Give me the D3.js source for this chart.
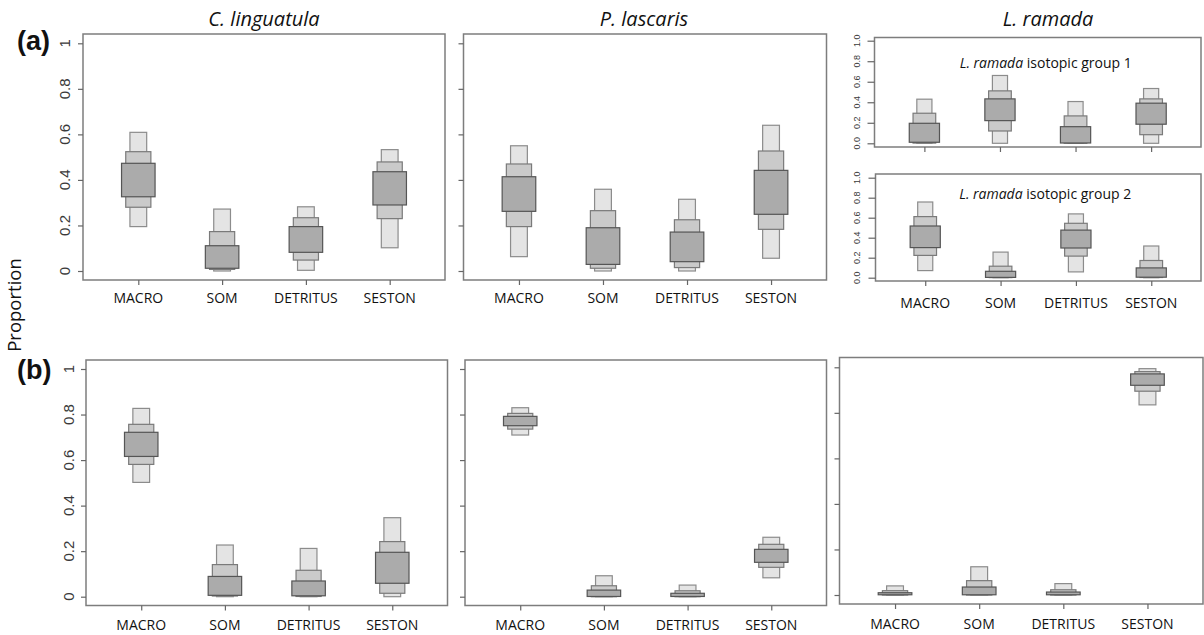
<!DOCTYPE html>
<html>
<head>
<meta charset="utf-8">
<script src="https://cdn.jsdelivr.net/npm/d3@7"></script>
<style>
  html, body { margin: 0; padding: 0; background: #fff; }
  svg { display: block; }
</style>
</head>
<body>
<svg id="chart" width="1204" height="635"></svg>
<script>
// Diet source categories
const categories = ["MACRO", "SOM", "DETRITUS", "SESTON"];

// Credible intervals per source: [lo95, hi95, lo75, hi75, lo50, hi50]
const clinguatulaA = [
  [0.195, 0.609, 0.280, 0.524, 0.326, 0.473],
  [0.000, 0.272, 0.007, 0.173, 0.012, 0.111],
  [0.003, 0.282, 0.048, 0.234, 0.082, 0.195],
  [0.102, 0.533, 0.230, 0.479, 0.290, 0.436]
];
const plascarisA = [
  [0.063, 0.550, 0.195, 0.470, 0.262, 0.414],
  [0.000, 0.359, 0.012, 0.265, 0.029, 0.190],
  [0.000, 0.315, 0.015, 0.225, 0.041, 0.171],
  [0.056, 0.640, 0.183, 0.527, 0.249, 0.442]
];
const lramadaGroup1 = [
  [0.000, 0.430, 0.002, 0.293, 0.010, 0.195],
  [0.000, 0.661, 0.120, 0.511, 0.221, 0.433],
  [0.000, 0.407, 0.001, 0.267, 0.003, 0.162],
  [0.000, 0.534, 0.084, 0.433, 0.186, 0.391]
];
const lramadaGroup2 = [
  [0.071, 0.757, 0.223, 0.611, 0.301, 0.517],
  [0.000, 0.256, 0.001, 0.115, 0.003, 0.064],
  [0.058, 0.638, 0.216, 0.544, 0.297, 0.476],
  [0.000, 0.317, 0.002, 0.172, 0.005, 0.098]
];
const clinguatulaB = [
  [0.502, 0.827, 0.581, 0.757, 0.616, 0.722],
  [0.000, 0.227, 0.003, 0.141, 0.006, 0.089],
  [0.000, 0.212, 0.001, 0.116, 0.004, 0.069],
  [0.000, 0.347, 0.015, 0.242, 0.059, 0.195]
];
const plascarisB = [
  [0.710, 0.830, 0.736, 0.805, 0.751, 0.792],
  [0.000, 0.092, 0.000, 0.048, 0.001, 0.029],
  [0.000, 0.051, 0.000, 0.026, 0.001, 0.015],
  [0.083, 0.261, 0.129, 0.230, 0.151, 0.208]
];
const lramadaB = [
  [0.000, 0.040, 0.000, 0.019, 0.001, 0.010],
  [0.000, 0.124, 0.000, 0.063, 0.001, 0.035],
  [0.000, 0.050, 0.000, 0.023, 0.001, 0.013],
  [0.835, 0.994, 0.895, 0.981, 0.921, 0.971]
];

// Tick labels
const bigTicks = [0, 0.2, 0.4, 0.6, 0.8, 1];
const bigTickLabels = ["0", "0.2", "0.4", "0.6", "0.8", "1"];
const smallTicks = [0, 0.2, 0.4, 0.6, 0.8, 1];
const smallTickLabels = ["0.0", "0.2", "0.4", "0.6", "0.8", "1.0"];

const speciesTitles = ["C. linguatula", "P. lascaris", "L. ramada"];

const svg = d3.select("#chart");

// Interval levels: 95% (light, narrow), 75%, 50% (dark, wide)
const levels = [
  { lo: 0, hi: 1, w: 0.2, fill: "#e4e4e4", stroke: "#8c8c8c" },
  { lo: 2, hi: 3, w: 0.3, fill: "#cacaca", stroke: "#7a7a7a" },
  { lo: 4, hi: 5, w: 0.4, fill: "#ababab", stroke: "#555555" }
];

function panel(opts) {
  const { frame, y0, y1, data, tickLabels, ticks, tickFont, tickLabelX, showXLabels, xLabelY, label } = opts;
  const g = svg.append("g");
  const x = d3.scaleLinear().domain([0.34, 4.66]).range([frame.x0, frame.x1]);
  const y = d3.scaleLinear().domain([0, 1]).range([y0, y1]);
  const unit = x(2) - x(1);

  // boxes
  data.forEach((d, i) => {
    const cx = x(i + 1);
    levels.forEach(l => {
      g.append("rect")
        .attr("x", cx - unit * l.w / 2)
        .attr("width", unit * l.w)
        .attr("y", y(d[l.hi]))
        .attr("height", Math.max(0.8, y(d[l.lo]) - y(d[l.hi])))
        .attr("fill", l.fill)
        .attr("stroke", l.stroke)
        .attr("stroke-width", 1.2);
    });
  });

  // frame
  g.append("rect")
    .attr("x", frame.x0).attr("y", frame.y0)
    .attr("width", frame.x1 - frame.x0).attr("height", frame.y1 - frame.y0)
    .attr("fill", "none").attr("stroke", "#7d7d7d").attr("stroke-width", 1.5);

  // y ticks
  const yAxis = d3.axisLeft(y).tickValues(ticks).tickSize(opts.tickLen || 5)
    .tickFormat((d, i) => tickLabels ? tickLabels[i] : "");
  const ya = g.append("g").attr("transform", `translate(${frame.x0},0)`).call(yAxis);
  ya.select(".domain").remove();
  ya.selectAll(".tick line").attr("stroke", "#666").attr("stroke-width", 1.2);
  ya.selectAll(".tick text").remove();
  if (tickLabels) {
    ticks.forEach((t, i) => {
      g.append("text")
        .attr("transform", `translate(${tickLabelX},${y(t)}) rotate(-90)`)
        .attr("text-anchor", "middle")
        .attr("dy", "0.35em")
        .attr("font-family", "'Liberation Sans', Arial, sans-serif")
        .attr("font-size", tickFont)
        .attr("fill", "#3a3a3a")
        .text(tickLabels[i]);
    });
  }

  // x ticks
  const xAxis = d3.axisBottom(x).tickValues([1, 2, 3, 4]).tickSize(5).tickFormat("");
  const xa = g.append("g").attr("transform", `translate(0,${frame.y1})`).call(xAxis);
  xa.select(".domain").remove();
  xa.selectAll(".tick line").attr("stroke", "#666").attr("stroke-width", 1.2);

  if (showXLabels) {
    categories.forEach((c, i) => {
      g.append("text")
        .attr("x", x(i + 1)).attr("y", xLabelY)
        .attr("text-anchor", "middle")
        .attr("font-family", "'Open Sans', sans-serif")
        .attr("font-size", 14)
        .attr("fill", "#111")
        .text(c);
    });
  }

  if (label) {
    const t = g.append("text")
      .attr("x", (frame.x0 + frame.x1) / 2 + (label.dx || 0)).attr("y", frame.y0 + label.dy)
      .attr("text-anchor", "middle")
      .attr("font-family", "'Open Sans', sans-serif")
      .attr("font-size", 14)
      .attr("fill", "#111");
    t.append("tspan").attr("font-style", "italic").text(label.italic);
    t.append("tspan").text(label.rest);
  }
}

// Row (a)
panel({ frame: { x0: 83, x1: 445, y0: 34, y1: 280 }, y0: 271, y1: 43.3, data: clinguatulaA,
  ticks: bigTicks, tickLabels: bigTickLabels, tickFont: 15, tickLabelX: 65, showXLabels: true, xLabelY: 303 });
panel({ frame: { x0: 463.5, x1: 826.5, y0: 34, y1: 280 }, y0: 271, y1: 43.3, data: plascarisA,
  ticks: bigTicks, tickLabels: null, showXLabels: true, xLabelY: 303 });
panel({ frame: { x0: 874.5, x1: 1201, y0: 37.5, y1: 147 }, y0: 143.3, y1: 40.7, data: lramadaGroup1,
  ticks: smallTicks, tickLabels: smallTickLabels, tickFont: 9, tickLabelX: 857, tickLen: 7, showXLabels: false,
  label: { italic: "L. ramada", rest: " isotopic group 1", dy: 30, dx: 8 } });
panel({ frame: { x0: 875.5, x1: 1201, y0: 174, y1: 281 }, y0: 277.7, y1: 177.7, data: lramadaGroup2,
  ticks: smallTicks, tickLabels: smallTickLabels, tickFont: 9, tickLabelX: 857, tickLen: 7, showXLabels: true, xLabelY: 308,
  label: { italic: "L. ramada", rest: " isotopic group 2", dy: 25, dx: 7 } });

// Row (b)
panel({ frame: { x0: 86, x1: 447.5, y0: 360, y1: 605.5 }, y0: 596.7, y1: 369, data: clinguatulaB,
  ticks: bigTicks, tickLabels: bigTickLabels, tickFont: 15, tickLabelX: 69, showXLabels: true, xLabelY: 630 });
panel({ frame: { x0: 465, x1: 826.5, y0: 360, y1: 605.5 }, y0: 596.7, y1: 369, data: plascarisB,
  ticks: bigTicks, tickLabels: null, showXLabels: true, xLabelY: 630 });
panel({ frame: { x0: 839.5, x1: 1203, y0: 357.5, y1: 604 }, y0: 595, y1: 367.3, data: lramadaB,
  ticks: bigTicks, tickLabels: null, showXLabels: true, xLabelY: 629 });

// Species titles
const titleX = [264, 644, 1048];
speciesTitles.forEach((s, i) => {
  svg.append("text")
    .attr("x", titleX[i]).attr("y", 26)
    .attr("text-anchor", "middle")
    .attr("font-family", "'Open Sans', sans-serif")
    .attr("font-style", "italic")
    .attr("font-size", 20)
    .attr("fill", "#111")
    .text(s);
});

// Row letters
svg.append("text").attr("x", 17).attr("y", 50)
  .attr("font-family", "'Liberation Sans', Arial, sans-serif").attr("font-weight", "bold")
  .attr("font-size", 27).attr("fill", "#111").text("(a)");
svg.append("text").attr("x", 17).attr("y", 379)
  .attr("font-family", "'Liberation Sans', Arial, sans-serif").attr("font-weight", "bold")
  .attr("font-size", 27).attr("fill", "#111").text("(b)");

// Shared y label
svg.append("text")
  .attr("transform", "translate(15,305) rotate(-90)")
  .attr("text-anchor", "middle").attr("dy", "0.35em")
  .attr("font-family", "'Open Sans', sans-serif")
  .attr("font-size", 18.5).attr("fill", "#111")
  .text("Proportion");
</script>
</body>
</html>
